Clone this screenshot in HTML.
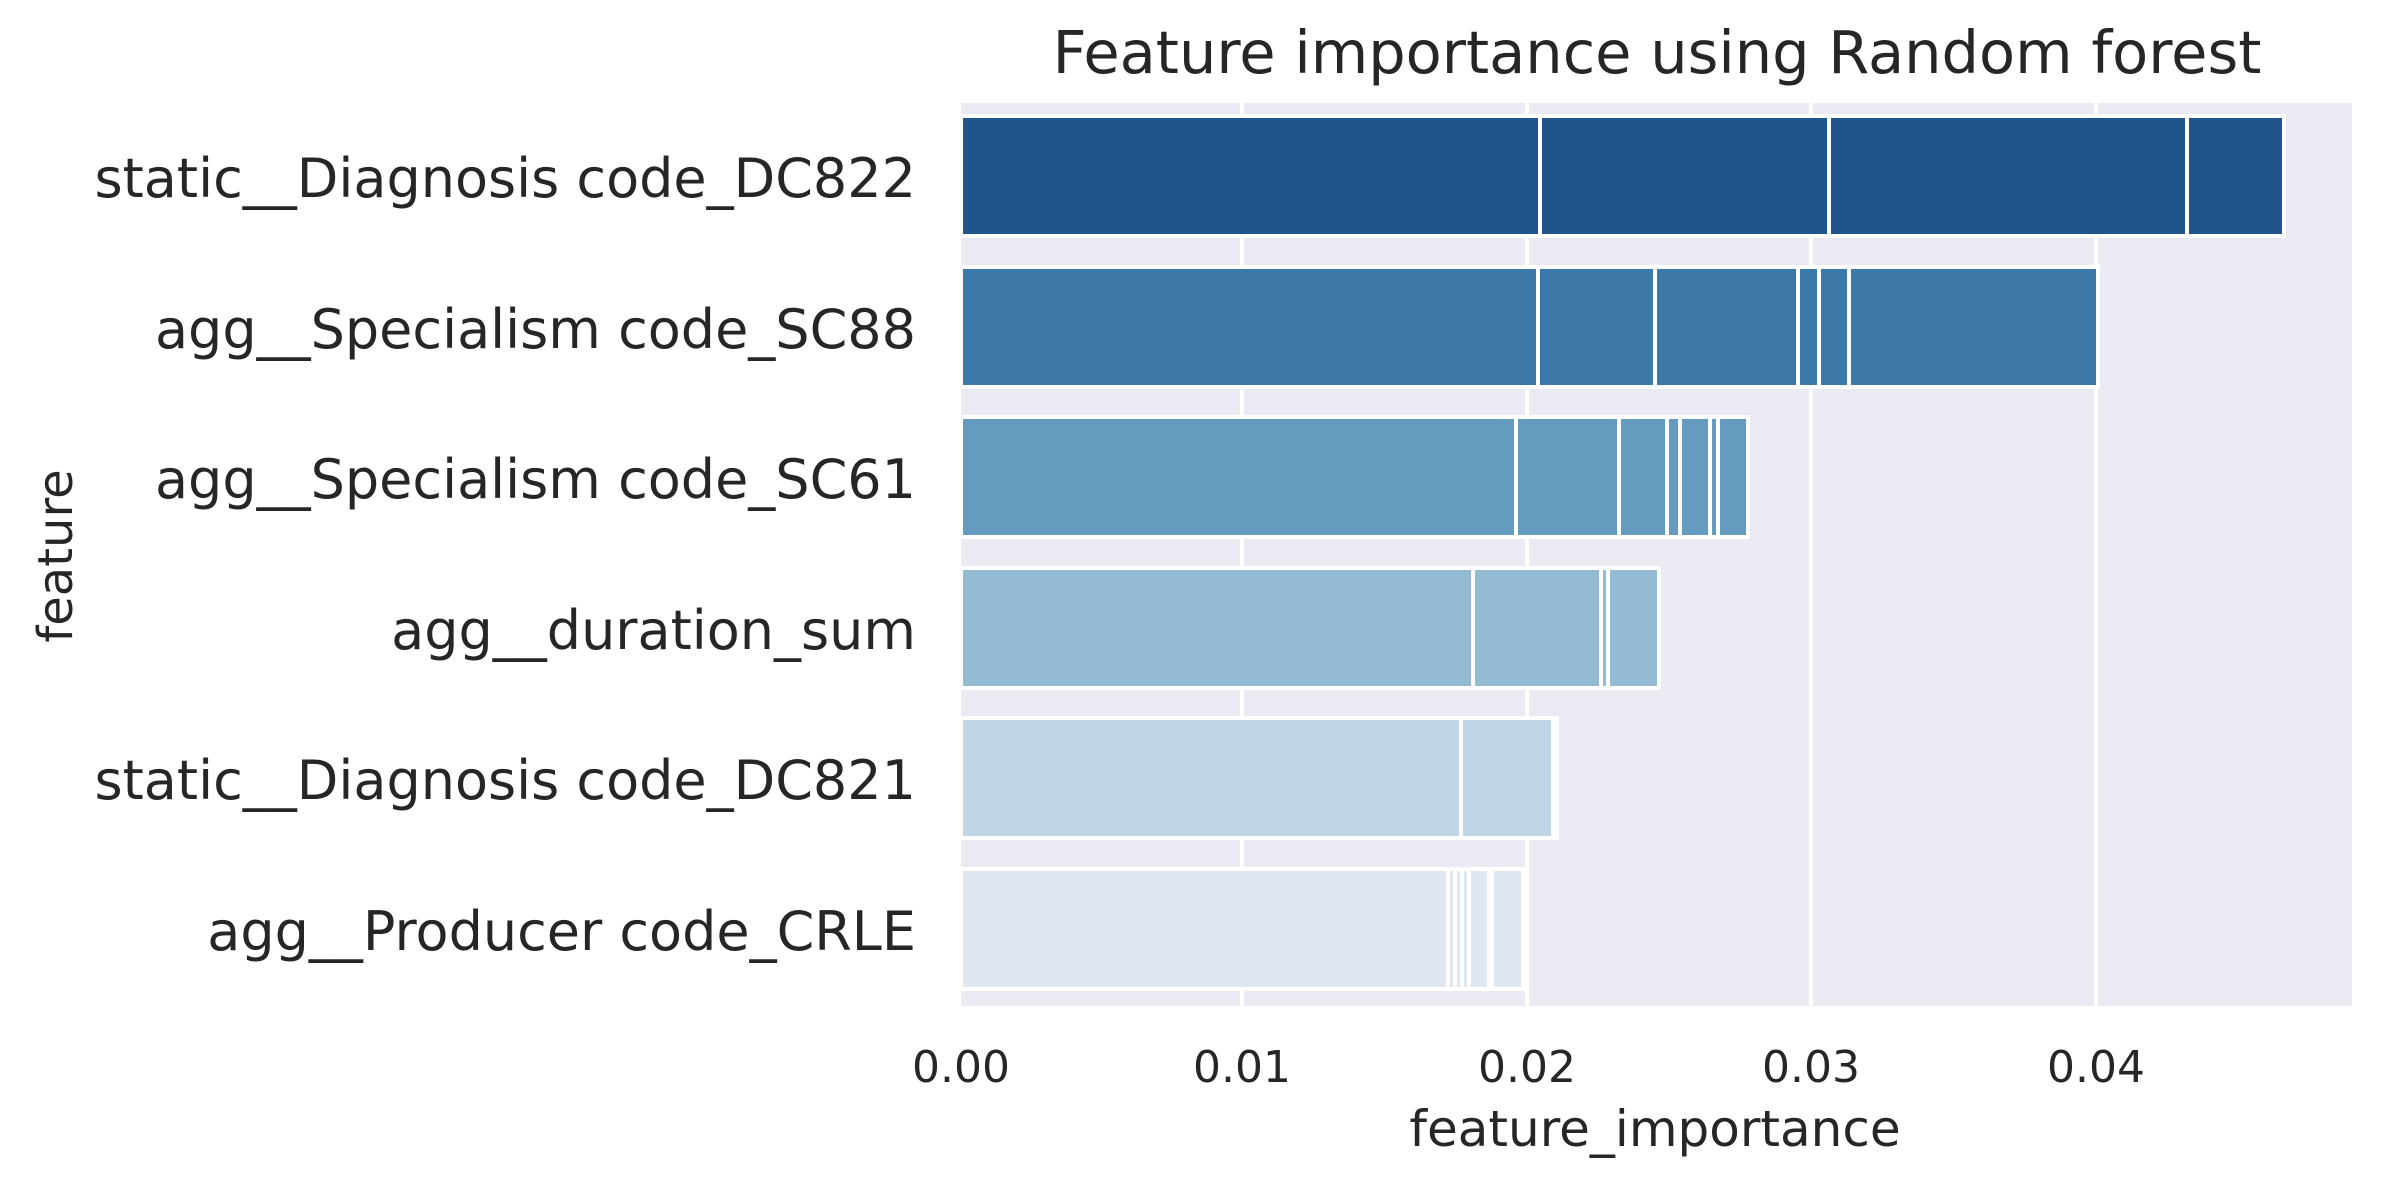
<!DOCTYPE html>
<html><head><meta charset="utf-8"><style>html,body{margin:0;padding:0;background:#fff}svg{display:block}</style></head>
<body>
<svg width="2382" height="1187" viewBox="0 0 2382 1187" xmlns="http://www.w3.org/2000/svg" font-family="DejaVu Sans, Liberation Sans, sans-serif" fill="#262626">
<rect x="961" y="103" width="1391" height="903" fill="#eaeaf2"/>
<g stroke="#fff" stroke-width="4">
<line x1="1242" y1="103" x2="1242" y2="1006"/>
<line x1="1527" y1="103" x2="1527" y2="1006"/>
<line x1="1811" y1="103" x2="1811" y2="1006"/>
<line x1="2096" y1="103" x2="2096" y2="1006"/>
</g>
<g stroke="#fff" stroke-width="4">
<g fill="#20558c">
<rect x="961" y="116" width="1323" height="120"/>
<rect x="961" y="116" width="1226" height="120"/>
<rect x="961" y="116" width="868" height="120"/>
<rect x="961" y="116" width="579" height="120"/>
</g>
<g fill="#3c79a8">
<rect x="961" y="267" width="1137" height="120"/>
<rect x="961" y="267" width="888" height="120"/>
<rect x="961" y="267" width="858" height="120"/>
<rect x="961" y="267" width="837" height="120"/>
<rect x="961" y="267" width="694" height="120"/>
<rect x="961" y="267" width="577" height="120"/>
</g>
<g fill="#649bbf">
<rect x="961" y="417" width="787" height="120"/>
<rect x="961" y="417" width="757" height="120"/>
<rect x="961" y="417" width="749" height="120"/>
<rect x="961" y="417" width="719" height="120"/>
<rect x="961" y="417" width="706" height="120"/>
<rect x="961" y="417" width="658" height="120"/>
<rect x="961" y="417" width="555" height="120"/>
</g>
<g fill="#95bbd2">
<rect x="961" y="568" width="698" height="120"/>
<rect x="961" y="568" width="647" height="120"/>
<rect x="961" y="568" width="640" height="120"/>
<rect x="961" y="568" width="512" height="120"/>
</g>
<g fill="#c0d6e6">
<rect x="961" y="718" width="596" height="120"/>
<rect x="961" y="718" width="592" height="120"/>
<rect x="961" y="718" width="500" height="120"/>
</g>
<g fill="#dfe8f2">
<rect x="961" y="869" width="562" height="120"/>
<rect x="961" y="869" width="531" height="120"/>
<rect x="961" y="869" width="528" height="120"/>
<rect x="961" y="869" width="508" height="120"/>
<rect x="961" y="869" width="501" height="120"/>
<rect x="961" y="869" width="494" height="120"/>
<rect x="961" y="869" width="487" height="120"/>
</g>
</g>
<g font-size="54" text-anchor="end">
<text x="916" y="197">static__Diagnosis code_DC822</text>
<text x="916" y="348">agg__Specialism code_SC88</text>
<text x="916" y="498">agg__Specialism code_SC61</text>
<text x="916" y="649">agg__duration_sum</text>
<text x="916" y="799">static__Diagnosis code_DC821</text>
<text x="916" y="950">agg__Producer code_CRLE</text>
</g>
<g font-size="44" text-anchor="middle">
<text x="961" y="1082">0.00</text>
<text x="1242" y="1082">0.01</text>
<text x="1527" y="1082">0.02</text>
<text x="1811" y="1082">0.03</text>
<text x="2096" y="1082">0.04</text>
</g>
<text x="1655" y="1146" font-size="50" text-anchor="middle">feature_importance</text>
<text transform="translate(72,556) rotate(-90)" font-size="48" text-anchor="middle">feature</text>
<text x="1657" y="73" font-size="59" text-anchor="middle">Feature importance using Random forest</text>
</svg>
</body></html>
